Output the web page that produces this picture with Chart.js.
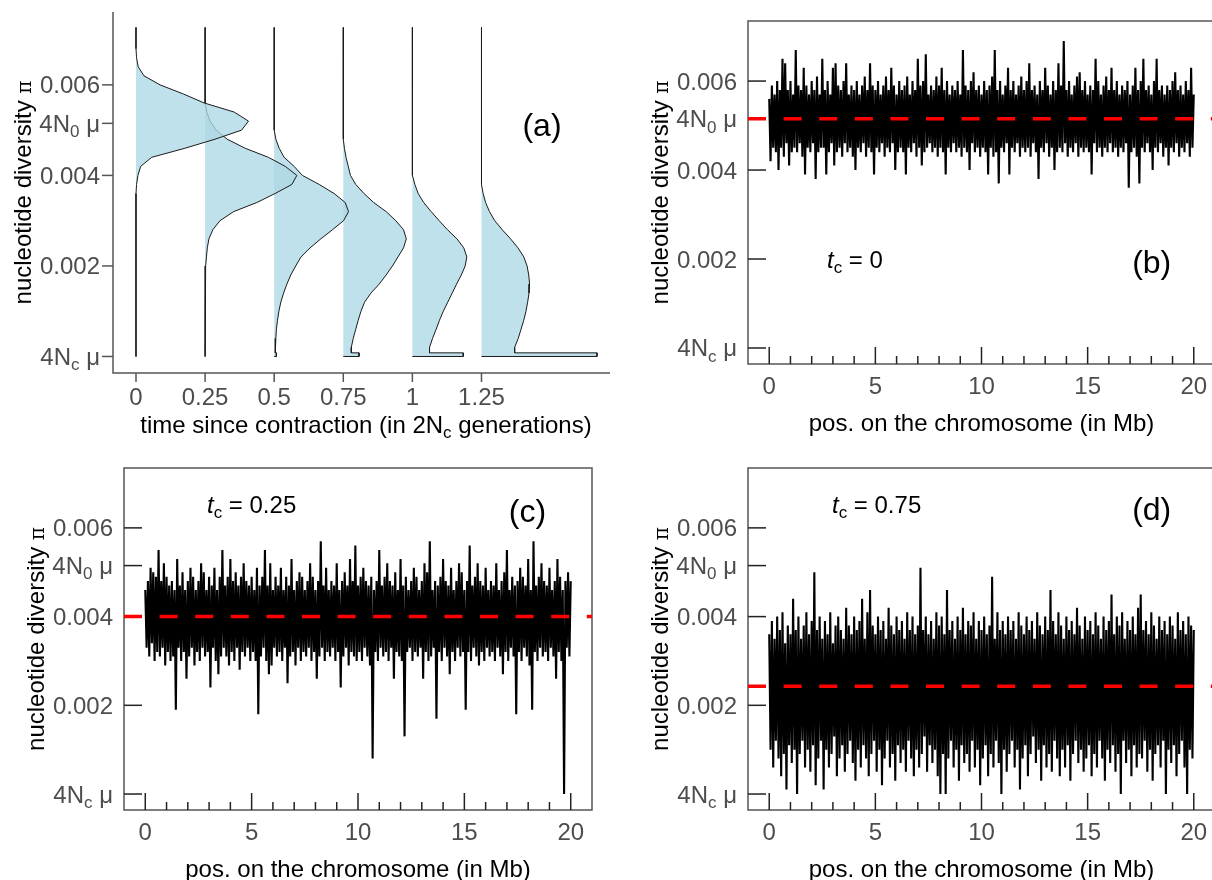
<!DOCTYPE html>
<html>
<head>
<meta charset="utf-8">
<script src="https://cdn.jsdelivr.net/npm/chart.js"></script>
<style>
  html, body { margin: 0; padding: 0; background: #fff; overflow: hidden; }
  #wrap { position: relative; width: 1212px; height: 880px; overflow: hidden; }
  canvas { position: absolute; }
</style>
</head>
<body>
<div id="wrap">
  <canvas id="panelA" width="620" height="440" style="left:0;top:0"></canvas>
  <canvas id="panelB" width="600" height="440" style="left:620px;top:0"></canvas>
  <canvas id="panelC" width="620" height="440" style="left:0;top:440px"></canvas>
  <canvas id="panelD" width="600" height="440" style="left:620px;top:440px"></canvas>
</div>
<script>
// all values of pi are in units of 1e-4

// ---- panel (a): distribution of pi at several times since contraction
const contractionTimes = [0, 0.25, 0.5, 0.75, 1, 1.25];
const piLevels = [72, 70, 68, 66, 64, 62, 60, 58, 56, 54, 52, 50, 48, 46, 44, 42, 40, 38,
                  36, 34, 32, 30, 28, 26, 24, 22, 20, 18, 16, 14, 12, 10, 8, 6, 4, 2];
const densT0 = [0, 0, 0, 0.002, 0.008, 0.029, 0.087, 0.171, 0.247, 0.355, 0.407, 0.382, 0.286, 0.177, 0.057, 0.017, 0.007, 0.002,
                0, 0, 0, 0, 0, 0, 0, 0, 0, 0, 0, 0, 0, 0, 0, 0, 0, 0];
const densT025 = [0, 0, 0, 0, 0, 0, 0, 0,
                  0.001, 0.006, 0.018, 0.04, 0.08, 0.145, 0.229, 0.29, 0.332, 0.314, 0.253, 0.187, 0.103, 0.054, 0.028, 0.014, 0.008, 0.005, 0.002, 0.001,
                  0, 0, 0, 0, 0, 0, 0, 0];
const densT05 = [0, 0, 0, 0, 0, 0, 0, 0, 0, 0, 0,
                 0.001, 0.006, 0.018, 0.036, 0.072, 0.102, 0.163, 0.217, 0.257, 0.269, 0.251, 0.211, 0.169, 0.13, 0.097, 0.078, 0.06, 0.046, 0.034, 0.024, 0.017, 0.012, 0.008, 0.006, 0.004];
const densT075 = [0, 0, 0, 0, 0, 0, 0, 0, 0, 0, 0, 0,
                  0.001, 0.004, 0.01, 0.018, 0.026, 0.045, 0.075, 0.11, 0.155, 0.19, 0.218, 0.228, 0.218, 0.198, 0.178, 0.155, 0.13, 0.1, 0.077, 0.064, 0.054, 0.045, 0.036, 0.029];
const densT1 = [0, 0, 0, 0, 0, 0, 0, 0, 0, 0, 0, 0, 0, 0, 0, 0,
                0.002, 0.009, 0.021, 0.041, 0.068, 0.097, 0.127, 0.161, 0.186, 0.197, 0.191, 0.177, 0.16, 0.144, 0.128, 0.112, 0.098, 0.086, 0.073, 0.062];
const densT125 = [0, 0, 0, 0, 0, 0, 0, 0, 0, 0, 0, 0, 0, 0, 0, 0, 0,
                  0.001, 0.006, 0.015, 0.029, 0.048, 0.075, 0.105, 0.132, 0.153, 0.165, 0.171, 0.174, 0.172, 0.167, 0.161, 0.153, 0.143, 0.133, 0.12];
const densAtNc = [0, 0, 0.008, 0.057, 0.184, 0.418];   // mass in the lowest bin (4Nc mu)
const stemTop = 72.7;
const ncBinTop = 0.8;

const timeTicks = [0, 0.25, 0.5, 0.75, 1, 1.25];
const timeTickLabels = ['0', '0.25', '0.5', '0.75', '1', '1.25'];
const piTicks = [60, 51.5, 40, 20, 0];
const piTickLabels = ['0.006', '4N_0 \u03bc', '0.004', '0.002', '4N_c \u03bc'];

// ---- panels (b)-(d): pi along the chromosome
const posMajorTicks = [0, 5, 10, 15, 20];
const posMajorLabels = ['0', '5', '10', '15', '20'];
const posMinorTicks = [1, 2, 3, 4, 6, 7, 8, 9, 11, 12, 13, 14, 16, 17, 18, 19];
const windowStepMb = 0.0625;

const piTc0 = [
  56,42,59,45,57,44,60,40,58,45,65,43,64,46,58,41,60,44,57,45,
  67,44,59,46,58,43,63,39,59,45,57,44,60,46,58,38,61,44,57,45,
  65,45,58,39,60,44,57,46,63,41,64,44,59,45,58,43,60,46,64,44,
  57,45,59,43,58,40,60,45,57,44,59,46,61,43,58,45,64,44,59,39,
  58,45,60,44,57,46,59,43,61,45,58,44,63,46,59,40,57,44,60,45,
  58,44,59,39,61,45,57,44,60,46,58,43,65,45,59,41,60,44,66,45,
  57,46,59,44,58,45,61,43,59,45,63,44,58,39,60,45,57,44,59,46,
  58,44,60,45,57,43,67,45,59,44,58,40,60,46,62,44,58,45,59,43,
  57,45,60,44,58,39,59,45,61,43,67,44,58,37,60,45,57,44,59,46,
  63,39,58,45,60,44,57,46,59,43,61,45,58,44,60,45,64,43,58,46,
  59,44,57,38,60,45,58,44,63,46,59,43,57,45,60,40,58,44,64,45,
  59,44,69,46,58,43,60,45,57,44,59,46,61,43,62,45,58,44,60,45,
  57,44,59,39,58,46,65,44,60,45,57,43,59,45,61,44,58,46,63,44,
  58,45,60,43,57,45,59,44,58,46,60,36,57,44,59,45,63,43,58,37,
  60,45,65,44,58,46,59,44,57,40,60,45,65,44,58,46,59,43,57,45,
  59,41,58,45,60,44,62,46,58,43,59,45,57,44,60,46,58,43,63,45,
  57];
const piTc025 = [
  46,33,48,31,51,34,50,30,49,32,55,31,48,33,52,29,49,32,47,30,
  48,31,46,19,53,33,47,30,50,32,46,26,48,31,51,33,49,29,46,32,
  48,30,52,33,50,31,46,32,49,24,47,33,51,30,46,27,49,31,55,33,
  47,31,49,29,53,32,48,30,50,33,47,28,49,32,52,31,48,33,47,30,
  49,32,46,30,51,18,47,31,49,33,55,30,47,27,52,29,46,33,49,31,
  47,32,51,30,46,33,49,25,47,31,53,32,46,29,48,33,50,30,49,32,
  46,31,48,33,52,30,49,32,46,26,48,31,57,33,47,30,51,32,46,31,
  48,33,47,30,52,32,46,24,48,31,50,33,47,29,53,32,48,31,56,30,
  47,32,49,30,51,33,48,31,47,29,49,8,46,32,48,30,55,33,47,31,
  49,32,52,30,48,33,47,26,50,32,46,31,53,30,47,13,49,32,46,33,
  48,30,51,32,49,31,46,33,48,26,52,32,50,30,57,31,46,33,48,17,
  47,32,49,30,53,33,48,31,47,27,51,32,46,30,48,33,52,31,50,32,
  46,19,48,32,56,30,47,33,49,31,52,29,48,32,47,30,51,33,46,31,
  48,32,47,30,52,33,46,31,48,27,50,32,55,30,46,33,49,31,47,18,
  48,32,51,30,49,33,47,31,53,29,46,19,57,32,47,30,49,33,52,31,
  48,32,47,30,51,33,46,31,48,26,53,32,49,30,46,0,48,33,50,31,
  48];
const piTc075 = [
  36,10,39,6,35,12,40,8,37,4,41,9,34,1,38,11,36,7,44,10,
  37,0,40,9,35,12,38,6,41,10,36,5,39,11,50,2,37,8,40,12,
  35,1,39,10,36,6,41,9,34,13,38,4,40,8,37,11,35,5,42,9,
  38,12,36,7,40,3,37,10,39,6,44,11,35,8,41,4,46,9,38,12,
  36,5,40,10,37,2,39,8,35,12,42,6,38,9,36,3,40,11,37,7,
  39,10,35,5,41,12,37,8,40,4,36,10,38,6,51,9,37,13,40,5,
  36,11,39,7,35,10,41,4,38,0,40,9,36,0,46,8,37,12,39,6,
  35,10,40,3,37,11,42,7,36,9,39,5,38,12,41,6,35,10,39,2,
  37,8,40,11,36,4,38,9,49,6,35,12,41,7,37,0,39,10,36,5,
  40,9,37,12,39,6,35,10,41,1,38,8,36,11,40,4,37,9,39,13,
  35,7,41,10,38,3,36,11,40,6,37,9,46,5,39,12,36,8,41,4,
  38,10,35,6,40,11,37,3,39,9,36,12,42,7,38,10,35,5,40,8,
  37,11,39,4,36,9,41,6,38,12,35,8,40,3,37,10,39,7,45,11,
  36,5,40,9,38,0,41,12,35,7,39,10,37,4,40,11,36,6,42,9,
  45,8,37,12,39,5,36,10,41,3,38,9,35,11,40,6,37,12,39,0,
  36,10,40,7,38,11,35,4,41,9,37,12,39,6,36,0,40,10,38,8,
  37];
const meanTc0 = 51.5;    // 4N0 mu
const meanTc025 = 40;
const meanTc075 = 24.3;

const FONT = '"Liberation Sans", Arial, Helvetica, sans-serif';
const TICK_COLOR = '#4d4d4d';

// text with "_x" meaning x is a subscript
function splitSub(text) {
  const parts = [];
  let buf = '';
  for (let i = 0; i < text.length; i++) {
    if (text[i] === '_') {
      if (buf) parts.push({ s: buf, sub: false });
      parts.push({ s: text[i + 1], sub: true });
      buf = '';
      i++;
    } else {
      buf += text[i];
    }
  }
  if (buf) parts.push({ s: buf, sub: false });
  return parts;
}

function richText(ctx, text, x, y, o) {
  const size = o.size;
  const parts = splitSub(text);
  const fontOf = (p, k) => (o.italicFirst && k === 0 ? 'italic ' : '') + (p.sub ? Math.round(size * 0.72) : size) + 'px ' + FONT;
  let total = 0;
  parts.forEach((p, k) => { ctx.font = fontOf(p, k); p.w = ctx.measureText(p.s).width; total += p.w; });
  let cx = o.align === 'right' ? x - total : o.align === 'center' ? x - total / 2 : x;
  ctx.fillStyle = o.color;
  ctx.textAlign = 'left';
  ctx.textBaseline = 'alphabetic';
  parts.forEach((p, k) => {
    ctx.font = fontOf(p, k);
    ctx.fillText(p.s, cx, p.sub ? y + size * 0.22 : y);
    cx += p.w;
  });
}

function yTitle(ctx, x, yMid) {
  const main = 'nucleotide diversity ';
  ctx.save();
  ctx.translate(x, yMid);
  ctx.rotate(-Math.PI / 2);
  ctx.font = '24px ' + FONT;
  const w1 = ctx.measureText(main).width;
  ctx.font = '20px "DejaVu Serif", serif';
  const w2 = ctx.measureText('\u03c0').width;
  const x0 = -(w1 + w2) / 2;
  ctx.fillStyle = '#000';
  ctx.textAlign = 'left';
  ctx.textBaseline = 'alphabetic';
  ctx.font = '24px ' + FONT;
  ctx.fillText(main, x0, 0);
  ctx.font = '20px "DejaVu Serif", serif';
  ctx.fillText('\u03c0', x0 + w1, 0);
  ctx.restore();
}

function seg(ctx, x1, y1, x2, y2) {
  ctx.beginPath();
  ctx.moveTo(x1, y1);
  ctx.lineTo(x2, y2);
  ctx.stroke();
}

// ---------- panel (a)
function violinPath(t, widths, ncMass) {
  const pts = [{ x: t, y: stemTop }];
  piLevels.forEach((v, k) => pts.push({ x: t + widths[k], y: v }));
  const last = widths[widths.length - 1];
  pts.push({ x: t + last, y: ncBinTop }, { x: t + ncMass, y: ncBinTop }, { x: t + ncMass, y: 0 }, { x: t, y: 0 });
  return pts;
}

const densities = [densT0, densT025, densT05, densT075, densT1, densT125];

const axesA = {
  id: 'axesA',
  afterDraw(chart) {
    const { ctx, chartArea: a, scales: { x, y } } = chart;
    ctx.save();
    ctx.strokeStyle = '#555';
    ctx.lineWidth = 1.5;
    ctx.beginPath();
    ctx.moveTo(a.left, a.top);
    ctx.lineTo(a.left, a.bottom);
    ctx.lineTo(a.right, a.bottom);
    ctx.stroke();
    piTicks.forEach((v, i) => {
      const py = y.getPixelForValue(v);
      seg(ctx, a.left - 11, py, a.left, py);
      richText(ctx, piTickLabels[i], a.left - 13, py + 8.5, { size: 24, align: 'right', color: TICK_COLOR });
    });
    timeTicks.forEach((v, i) => {
      const px = x.getPixelForValue(v);
      seg(ctx, px, a.bottom, px, a.bottom + 9);
      richText(ctx, timeTickLabels[i], px, a.bottom + 32, { size: 24, align: 'center', color: TICK_COLOR });
    });
    richText(ctx, 'time since contraction (in 2N_c generations)', 366, a.bottom + 60, { size: 24, align: 'center', color: '#000' });
    yTitle(ctx, a.left - 82, (a.top + a.bottom) / 2);
    richText(ctx, '(a)', 542, 136, { size: 32, align: 'center', color: '#000' });
    ctx.restore();
  }
};

new Chart(document.getElementById('panelA'), {
  type: 'line',
  data: {
    datasets: contractionTimes.map((t, k) => ({
      data: violinPath(t, densities[k], densAtNc[k]),
      borderColor: '#1a1a1a',
      borderWidth: 1,
      backgroundColor: 'rgba(173, 216, 230, 0.78)',
      fill: 'shape'
    }))
  },
  options: {
    responsive: false,
    animation: false,
    devicePixelRatio: 1,
    layout: { padding: { left: 113, top: 12, right: 10, bottom: 67 } },
    elements: { point: { radius: 0 }, line: { tension: 0 } },
    plugins: {
      legend: { display: false },
      tooltip: { enabled: false },
      filler: { drawTime: 'beforeDatasetDraw' }
    },
    scales: {
      x: { type: 'linear', min: -0.0832, max: 1.715, display: false },
      y: { min: -3.65, max: 76.1, display: false }
    }
  },
  plugins: [axesA]
});

// ---------- panels (b)-(d)
function traceDecor(tcText, tcX, tcY, letter, letterX, letterY) {
  return {
    id: 'traceDecor',
    beforeDatasetsDraw(chart) {
      const { ctx, chartArea: a, scales: { x, y } } = chart;
      ctx.save();
      ctx.strokeStyle = '#555';
      ctx.lineWidth = 1.5;
      ctx.strokeRect(a.left, a.top, a.right - a.left, a.bottom - a.top);
      ctx.strokeStyle = '#222';
      piTicks.forEach((v) => {
        const py = y.getPixelForValue(v);
        seg(ctx, a.left, py, a.left + 18, py);
      });
      posMajorTicks.forEach((v) => {
        const px = x.getPixelForValue(v);
        seg(ctx, px, a.bottom, px, a.bottom - 17);
      });
      posMinorTicks.forEach((v) => {
        const px = x.getPixelForValue(v);
        seg(ctx, px, a.bottom, px, a.bottom - 8);
      });
      ctx.restore();
    },
    afterDraw(chart) {
      const { ctx, chartArea: a, scales: { x, y } } = chart;
      ctx.save();
      piTicks.forEach((v, i) => {
        const py = y.getPixelForValue(v);
        richText(ctx, piTickLabels[i], a.left - 11, py + 8.5, { size: 24, align: 'right', color: TICK_COLOR });
      });
      posMajorTicks.forEach((v, i) => {
        const px = x.getPixelForValue(v);
        richText(ctx, posMajorLabels[i], px, a.bottom + 30, { size: 24, align: 'center', color: TICK_COLOR });
      });
      richText(ctx, 'pos. on the chromosome (in Mb)', (a.left + a.right) / 2, a.bottom + 66.5, { size: 24, align: 'center', color: '#000' });
      yTitle(ctx, a.left - 80, (a.top + a.bottom) / 2);
      richText(ctx, tcText, tcX, tcY, { size: 24, align: 'left', color: '#000', italicFirst: true });
      richText(ctx, letter, letterX, letterY, { size: 32, align: 'center', color: '#000' });
      ctx.restore();
    }
  };
}

function tracePanel(id, values, mean, pad, decor) {
  new Chart(document.getElementById(id), {
    type: 'line',
    data: {
      datasets: [
        {
          data: [{ x: -1, y: mean }, { x: 21, y: mean }],
          borderColor: '#ff0000',
          borderWidth: 3.5,
          borderDash: [18, 17.6],
          borderCapStyle: 'butt'
        },
        {
          data: values.map((v, i) => ({ x: i * windowStepMb, y: v })),
          borderColor: '#000',
          borderWidth: 2.1,
          borderJoinStyle: 'bevel'
        }
      ]
    },
    options: {
      responsive: false,
      animation: false,
      devicePixelRatio: 1,
      layout: { padding: pad },
      elements: { point: { radius: 0 }, line: { tension: 0 } },
      plugins: { legend: { display: false }, tooltip: { enabled: false } },
      scales: {
        x: { type: 'linear', min: -1, max: 21, display: false },
        y: { min: -3.6, max: 73.5, display: false }
      }
    },
    plugins: [decor]
  });
}

tracePanel('panelB', piTc0, meanTc0, { left: 128, top: 21, right: 5, bottom: 76 },
  traceDecor('t_c = 0', 207, 268, '(b)', 531.7, 273.3));
tracePanel('panelC', piTc025, meanTc025, { left: 124, top: 28, right: 28, bottom: 70 },
  traceDecor('t_c = 0.25', 207, 73, '(c)', 527.5, 81.5));
tracePanel('panelD', piTc075, meanTc075, { left: 128, top: 28, right: 5, bottom: 70 },
  traceDecor('t_c = 0.75', 212, 72.7, '(d)', 531.7, 79.5));
</script>
</body>
</html>
